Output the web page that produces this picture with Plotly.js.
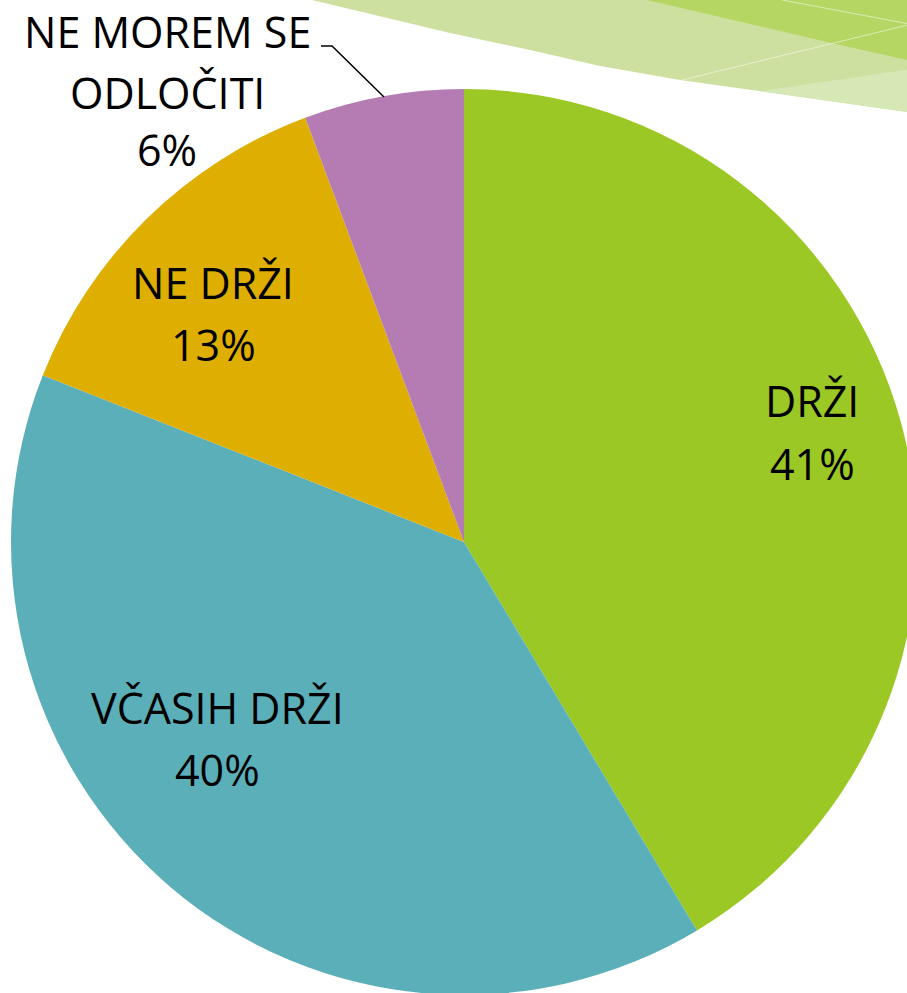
<!DOCTYPE html>
<html>
<head>
<meta charset="utf-8">
<script src="https://cdn.plot.ly/plotly-3.0.1.min.js"></script>
<style>
html,body{margin:0;padding:0;background:#fff;overflow:hidden;width:907px;height:993px;}
#chart{width:920px;height:1000px;}
</style>
</head>
<body>
<div id="chart"></div>
<script>
// ---- data ----
const labels = ['DRŽI', 'VČASIH DRŽI', 'NE DRŽI', 'NE MOREM SE<br>ODLOČITI'];
const values = [41.4, 39.6, 13.3, 5.7];
const colors = ['#9BC824', '#5BAFB9', '#DEAE00', '#B47CB2'];

// ---- layout constants (pixels) ----
const W = 920, H = 1000;
const px = x => x / W;
const py = y => 1 - y / H;
function path(pts, close) {
  return pts.map((p, i) => (i ? 'L' : 'M') + px(p[0]).toFixed(5) + ',' + py(p[1]).toFixed(5)).join(' ') + (close ? ' Z' : '');
}

const total = values.reduce((a, b) => a + b, 0);
const pct = values.map(v => Math.round(v / total * 100) + '%');

// label line positions (cap centre) for each slice: [x, [y per line]]
const labelPos = [
  [812, [400, 463]],
  [217, [707, 769]],
  [213, [282, 344]],
  [167, [31, 93, 149]]
];

const annotations = [];
labels.forEach((lab, i) => {
  const lines = lab.split('<br>').concat([pct[i]]);
  lines.forEach((t, j) => {
    annotations.push({
      xref: 'paper', yref: 'paper',
      x: px(labelPos[i][0]), y: py(labelPos[i][1][j]),
      xanchor: 'center', yanchor: 'middle',
      text: t, showarrow: false,
      font: {family: 'Open Sans, sans-serif', size: 43, color: '#000'}
    });
  });
});

const shapes = [
  // decorative swoosh
  {type: 'path', xref: 'paper', yref: 'paper', layer: 'below', line: {width: 0},
   fillcolor: '#CDE09F',
   path: path([[312,0],[920,0],[920,113],[907,112],[680,80],[600,66],[530,50],[450,33]], true)},
  {type: 'path', xref: 'paper', yref: 'paper', layer: 'below', line: {width: 0},
   fillcolor: '#B6D663',
   path: path([[647,0],[733,20],[827,42],[907,60],[920,62],[920,0]], true)},
  {type: 'path', xref: 'paper', yref: 'paper', layer: 'below', line: {width: 0},
   fillcolor: '#D6E8B6',
   path: path([[760,91],[920,68],[920,113],[907,112]], true)},
  {type: 'path', xref: 'paper', yref: 'paper', layer: 'below', line: {width: 1, color: 'rgba(255,255,255,0.5)'},
   path: path([[782,0],[920,26]], false)},
  {type: 'path', xref: 'paper', yref: 'paper', layer: 'below', line: {width: 1, color: 'rgba(255,255,255,0.5)'},
   path: path([[678,81],[920,22]], false)},
  // leader line
  {type: 'path', xref: 'paper', yref: 'paper', layer: 'above', line: {width: 1.5, color: '#000'},
   path: path([[321,46],[332,46],[384,97]], false)}
];

const trace = {
  type: 'pie',
  labels: labels,
  values: values,
  sort: false,
  direction: 'clockwise',
  rotation: 0,
  marker: {colors: colors, line: {width: 0}},
  textinfo: 'none',
  hoverinfo: 'label+percent',
  showlegend: false,
  domain: {x: [px(11), px(917)], y: [py(995), py(89)]}
};

const layout = {
  width: W, height: H,
  margin: {l: 0, r: 0, t: 0, b: 0, pad: 0},
  paper_bgcolor: '#fff',
  plot_bgcolor: '#fff',
  showlegend: false,
  shapes: shapes,
  annotations: annotations
};

Plotly.newPlot('chart', [trace], layout, {displayModeBar: false, staticPlot: true});
</script>
</body>
</html>
